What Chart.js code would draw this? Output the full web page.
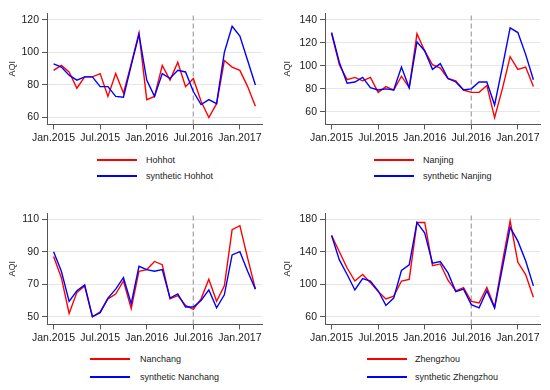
<!DOCTYPE html>
<html><head><meta charset="utf-8">
<script src="https://cdn.jsdelivr.net/npm/chart.js@4"></script>
<style>
body{margin:0;background:#fff;width:550px;height:390px;position:relative;overflow:hidden;font-family:"Liberation Sans",Arial,sans-serif;}
.panel{position:absolute;width:275px;height:146px;}
.ln{position:absolute;width:40px;height:1.5px;}
.tx{position:absolute;font-size:9px;color:#222;line-height:10px;white-space:nowrap;}
</style>
</head><body>
<div class="panel" style="left:0;top:0"><canvas id="c0"></canvas></div>
<div class="panel" style="left:275px;top:0"><canvas id="c1"></canvas></div>
<div class="panel" style="left:0;top:200px"><canvas id="c2"></canvas></div>
<div class="panel" style="left:275px;top:200px"><canvas id="c3"></canvas></div>
<div id="legends"></div>
<script>
// month index 0 = Jan.2015 ... 26 = Mar.2017
const xTickPositions = [0, 6, 12, 18, 24];
const xTickLabels = ['Jan.2015', 'Jul.2015', 'Jan.2016', 'Jul.2016', 'Jan.2017'];
const interventionMonth = 18;

const cities = ['Hohhot', 'Nanjing', 'Nanchang', 'Zhengzhou'];

const hohhotActual    = [89, 92, 88, 78, 85, 85, 87, 73, 87, 75, 93, 112, 71, 73, 92, 83, 94, 79, 84, 70, 60, 68.5, 95, 91, 89, 79, 67];
const hohhotSynthetic = [93, 91, 86, 83, 85, 85, 79, 79, 73, 72.5, 92, 111, 83, 73, 87, 84, 89, 88, 76, 68, 71, 68.5, 100, 116, 110, 95, 80];

const nanjingActual    = [128, 101, 88, 90, 87, 90, 77, 82, 79, 91, 81, 128, 113, 101, 98, 89, 87, 79, 77, 77, 83, 55, 80, 108, 97, 99, 82];
const nanjingSynthetic = [129, 103, 85, 86, 90, 81, 79, 80, 79, 99, 81, 121, 113, 97, 102, 89, 86, 79, 80, 86, 86, 66, 99, 133, 129, 110, 88];

const nanchangActual    = [87, 74, 52, 65, 69, 50, 53, 61, 64, 72, 55, 78, 79, 84, 82, 61, 63, 57, 54.5, 61, 73, 59.5, 69, 103.5, 106, 86, 67];
const nanchangSynthetic = [90, 78, 59.5, 66, 69.5, 50, 52.5, 61.5, 67, 74, 58, 81, 79, 78, 79, 61.5, 64, 56, 56, 60, 66.5, 55.5, 63.5, 88, 90, 78, 67];

const zhengzhouActual    = [160, 140, 120, 104, 112, 102, 91, 82, 85.5, 104, 106, 176, 176, 123, 125, 105, 92, 96, 79, 77, 96, 72, 127, 178, 127, 112, 84];
const zhengzhouSynthetic = [160, 130, 112, 93, 107, 104, 92, 74, 83, 117, 124, 176, 163, 126, 128, 114, 91, 94, 75, 71, 92, 71, 120, 170, 153, 129, 98];

const yTicksHohhot = [60, 80, 100, 120];
const yTicksNanjing = [60, 80, 100, 120, 140];
const yTicksNanchang = [50, 70, 90, 110];
const yTicksZhengzhou = [60, 100, 140, 180];

const yRanges = [[55.8, 124.2], [49.1, 146], [45.3, 113.8], [50.7, 187.6]];

const panels = [
  {actual: hohhotActual, synth: hohhotSynthetic, ticks: yTicksHohhot, left: 47, right: 13,
   leg: {lx: 97, tx: 146, y1: 160, y2: 176}},
  {actual: nanjingActual, synth: nanjingSynthetic, ticks: yTicksNanjing, left: 50, right: 10,
   leg: {lx: 374, tx: 423, y1: 160, y2: 176}},
  {actual: nanchangActual, synth: nanchangSynthetic, ticks: yTicksNanchang, left: 47, right: 13,
   leg: {lx: 90, tx: 140, y1: 359, y2: 377}},
  {actual: zhengzhouActual, synth: zhengzhouSynthetic, ticks: yTicksZhengzhou, left: 50, right: 10,
   leg: {lx: 367, tx: 415, y1: 359, y2: 377}}
];

const FONT = '"Liberation Sans", Arial, sans-serif';
const toPts = arr => arr.map((v, i) => ({x: i, y: v}));

panels.forEach((p, k) => {
  const [ymin, ymax] = yRanges[k];
  new Chart(document.getElementById('c' + k), {
    type: 'line',
    data: {
      datasets: [
        {label: cities[k], data: toPts(p.actual), borderColor: '#ff0000', borderWidth: 1.4, pointRadius: 0, tension: 0, order: 1},
        {label: 'synthetic ' + cities[k], data: toPts(p.synth), borderColor: '#0000ff', borderWidth: 1.4, pointRadius: 0, tension: 0, order: 0},
        {label: 'intervention', data: [{x: interventionMonth, y: ymin}, {x: interventionMonth, y: ymax}],
         borderColor: '#a8a8a8', borderWidth: 1.3, borderDash: [5, 3], pointRadius: 0, order: 2}
      ]
    },
    options: {
      responsive: true, maintainAspectRatio: false, animation: false,
      layout: {padding: {left: 0, right: p.right, top: 13, bottom: 0}},
      plugins: {legend: {display: false}, tooltip: {enabled: false}},
      scales: {
        x: {
          type: 'linear', min: -0.85, max: 26.85,
          afterBuildTicks: s => { s.ticks = xTickPositions.map(v => ({value: v})); },
          ticks: {callback: (v) => xTickLabels[xTickPositions.indexOf(v)], font: {family: FONT, size: 10.5}, color: '#1a1a1a', padding: 2, maxRotation: 0, autoSkip: false},
          grid: {drawOnChartArea: false, drawTicks: true, tickLength: 5, tickColor: '#555'},
          border: {color: '#555', width: 1}
        },
        y: {
          min: ymin, max: ymax,
          afterBuildTicks: s => { s.ticks = p.ticks.map(v => ({value: v})); },
          afterFit: s => { s.width = p.left; },
          ticks: {font: {family: FONT, size: 10.5}, color: '#1a1a1a', padding: 3},
          grid: {color: '#e6e6e6', lineWidth: 1, tickLength: 5, tickColor: '#555'},
          border: {color: '#555', width: 1},
          title: {display: true, text: 'AQI', font: {family: FONT, size: 9}, color: '#222', padding: {top: 7, bottom: 0}}
        }
      }
    }
  });
  const L = document.getElementById('legends');
  const items = [[cities[k], '#ff0000', p.leg.y1], ['synthetic ' + cities[k], '#0000ff', p.leg.y2]];
  items.forEach(([t, c, y]) => {
    const ln = document.createElement('div');
    ln.className = 'ln'; ln.style.left = p.leg.lx + 'px'; ln.style.top = (y - 0.75) + 'px'; ln.style.background = c;
    L.appendChild(ln);
    const tx = document.createElement('div');
    tx.className = 'tx'; tx.style.left = p.leg.tx + 'px'; tx.style.top = (y - 5) + 'px'; tx.textContent = t;
    L.appendChild(tx);
  });
});
</script>
</body></html>
